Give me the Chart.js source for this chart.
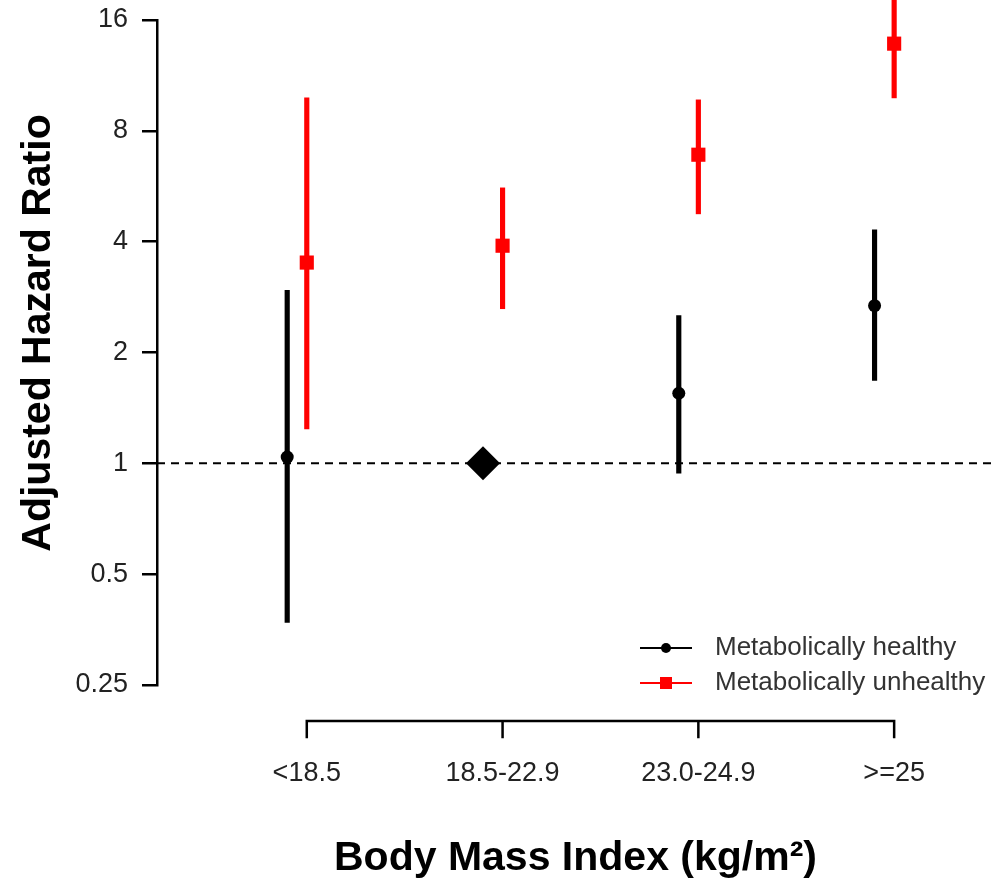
<!DOCTYPE html>
<html>
<head>
<meta charset="utf-8">
<title>Adjusted hazard ratio by body mass index</title>
<script src="https://cdn.jsdelivr.net/npm/chart.js@4.4.1/dist/chart.umd.min.js"></script>
<style>
	body { margin: 0; background: #fff; }
	canvas { display: block; }
</style>
</head>
<body>
<canvas id="mycanvas" width="994" height="883"></canvas>
<script>
var categories = ["<18.5", "18.5-22.9", "23.0-24.9", ">=25"];
var yTicks = [0.25, 0.5, 1, 2, 4, 8, 16];
var yTickLabels = ["0.25", "0.5", "1", "2", "4", "8", "16"];

// metabolically healthy, 18.5-22.9 is the reference group (no CI)
var healthyHR = [1.04, 1, 1.55, 2.68];
var healthyLow = [0.37, null, 0.94, 1.68];
var healthyHigh = [2.95, null, 2.52, 4.31];

// metabolically unhealthy
var unhealthyHR = [3.51, 3.90, 6.89, 13.8];
var unhealthyLow = [1.24, 2.63, 4.76, 9.83];
var unhealthyHigh = [9.83, 5.60, 9.71, 18.6];

var refValue = 1;
var healthyShift = -0.1;   // black series sits a bit left of the tick

var xMin = 0.235, xMax = 4.51;
var font = "'Liberation Sans', Arial, Helvetica, sans-serif";

function ciData(low, high, shift) {
	var out = [];
	for (var i in categories) {
		if (low[i] == null) continue;
		out.push({x: +i + 1 + shift, y: [low[i], high[i]]});
	}
	return out;
}
function pointData(hr, shift) {
	return hr.map(function(v, i){ return {x: i + 1 + shift, y: v}; });
}

// R style axes: bottom axis only between first and last tick, y title, legend
var rAxes = {
	id: "rAxes",
	afterDraw: function(chart) {
		var ctx = chart.ctx;
		var xs = chart.scales.x;
		var yLine = chart.chartArea.bottom + 36;
		ctx.save();
		ctx.strokeStyle = "#000";
		ctx.lineWidth = 2.5;
		ctx.lineCap = "square";
		ctx.beginPath();
		ctx.moveTo(xs.getPixelForValue(1), yLine);
		ctx.lineTo(xs.getPixelForValue(categories.length), yLine);
		for (var i = 0; i < categories.length; i++) {
			var px = xs.getPixelForValue(i + 1);
			ctx.moveTo(px, yLine);
			ctx.lineTo(px, yLine + 16);
		}
		ctx.stroke();

		ctx.translate(39, 333);
		ctx.rotate(-Math.PI / 2);
		ctx.fillStyle = "#000";
		ctx.font = "bold 41px " + font;
		ctx.textAlign = "center";
		ctx.textBaseline = "middle";
		ctx.fillText("Adjusted Hazard Ratio", 0, 0);
		ctx.restore();

		// legend: line with the marker on it
		var items = [chart.data.datasets[0], chart.data.datasets[1]];
		ctx.save();
		ctx.font = "26px " + font;
		ctx.textBaseline = "middle";
		items.forEach(function(ds, k){
			var y = 648 + k * 35;
			ctx.strokeStyle = ds.borderColor;
			ctx.lineWidth = 2;
			ctx.beginPath();
			ctx.moveTo(640, y);
			ctx.lineTo(692, y);
			ctx.stroke();
			ctx.fillStyle = ds.backgroundColor;
			if (k == 0) {
				ctx.beginPath();
				ctx.arc(666, y, 5, 0, Math.PI * 2);
				ctx.fill();
			} else {
				ctx.fillRect(660, y - 6, 12, 12);
			}
			ctx.fillStyle = "#333";
			ctx.fillText(ds.label, 715, y);
		});
		ctx.restore();
	}
};

var chartdata = {
	datasets: [
	{
		type: "scatter",
		label: "Metabolically healthy",
		order: 0,
		data: pointData(healthyHR, healthyShift),
		backgroundColor: "#000",
		borderColor: "#000",
		pointStyle: function(c){ return healthyLow[c.dataIndex] == null ? "rectRot" : "circle"; },
		pointRadius: function(c){ return healthyLow[c.dataIndex] == null ? 17 : 6.5; },
		pointBorderWidth: 0,
		clip: false
	},
	{
		type: "scatter",
		label: "Metabolically unhealthy",
		order: 0,
		data: pointData(unhealthyHR, 0),
		backgroundColor: "#ff0000",
		borderColor: "#ff0000",
		pointStyle: "rect",
		pointRadius: 10,
		pointBorderWidth: 0,
		clip: false
	},
	{
		type: "bar",
		label: "healthy CI",
		order: 1,
		data: ciData(healthyLow, healthyHigh, healthyShift),
		backgroundColor: "#000",
		barThickness: 4.5,
		grouped: false,
		clip: false
	},
	{
		type: "bar",
		label: "unhealthy CI",
		order: 1,
		data: ciData(unhealthyLow, unhealthyHigh, 0),
		backgroundColor: "#ff0000",
		barThickness: 4.5,
		grouped: false,
		clip: false
	},
	{
		type: "line",
		label: "reference",
		order: 2,
		data: [{x: xMin, y: refValue}, {x: xMax, y: refValue}],
		borderColor: "#000",
		borderWidth: 2,
		borderDash: [8, 6],
		pointRadius: 0,
		fill: false
	}
	]
};

var ctx = document.getElementById("mycanvas");
var LineGraph = new Chart(ctx, {
	type: "scatter",
	data: chartdata,
	plugins: [rAxes],
	options: {
		responsive: false,
		animation: false,
		layout: { autoPadding: false, padding: { top: 20, left: 0, right: 0, bottom: 0 } },
		plugins: {
			legend: { display: false },
			tooltip: { enabled: false }
		},
		scales: {
			x: {
				type: "linear",
				min: xMin,
				max: xMax,
				offset: false,
				grid: { display: false, drawTicks: true, tickLength: 72 },
				border: { display: false },
				afterBuildTicks: function(s){ s.ticks = categories.map(function(c, i){ return {value: i + 1}; }); },
				afterFit: function(s){ s.height = 198; s.paddingLeft = 0; s.paddingRight = 0; },
				ticks: {
					padding: 0,
					maxRotation: 0,
					autoSkip: false,
					color: "#222",
					font: { family: font, size: 27 },
					callback: function(v, i){ return categories[i]; }
				},
				title: {
					display: true,
					text: "Body Mass Index (kg/m²)",
					color: "#000",
					padding: 0,
					font: { family: font, size: 41, weight: "bold" }
				}
			},
			y: {
				type: "logarithmic",
				min: yTicks[0],
				max: yTicks[yTicks.length - 1],
				afterBuildTicks: function(s){ s.ticks = yTicks.map(function(v){ return {value: v}; }); },
				afterFit: function(s){ s.width = 157; s.paddingTop = 0; s.paddingBottom = 0; },
				grid: { drawOnChartArea: false, drawTicks: true, tickLength: 15, color: "#000", lineWidth: 2.5 },
				border: { display: true, color: "#000", width: 2.5 },
				ticks: {
					padding: 14,
					autoSkip: false,
					color: "#222",
					font: { family: font, size: 27 },
					callback: function(v, i){ return yTickLabels[i]; }
				}
			}
		}
	}
});
</script>
</body>
</html>
